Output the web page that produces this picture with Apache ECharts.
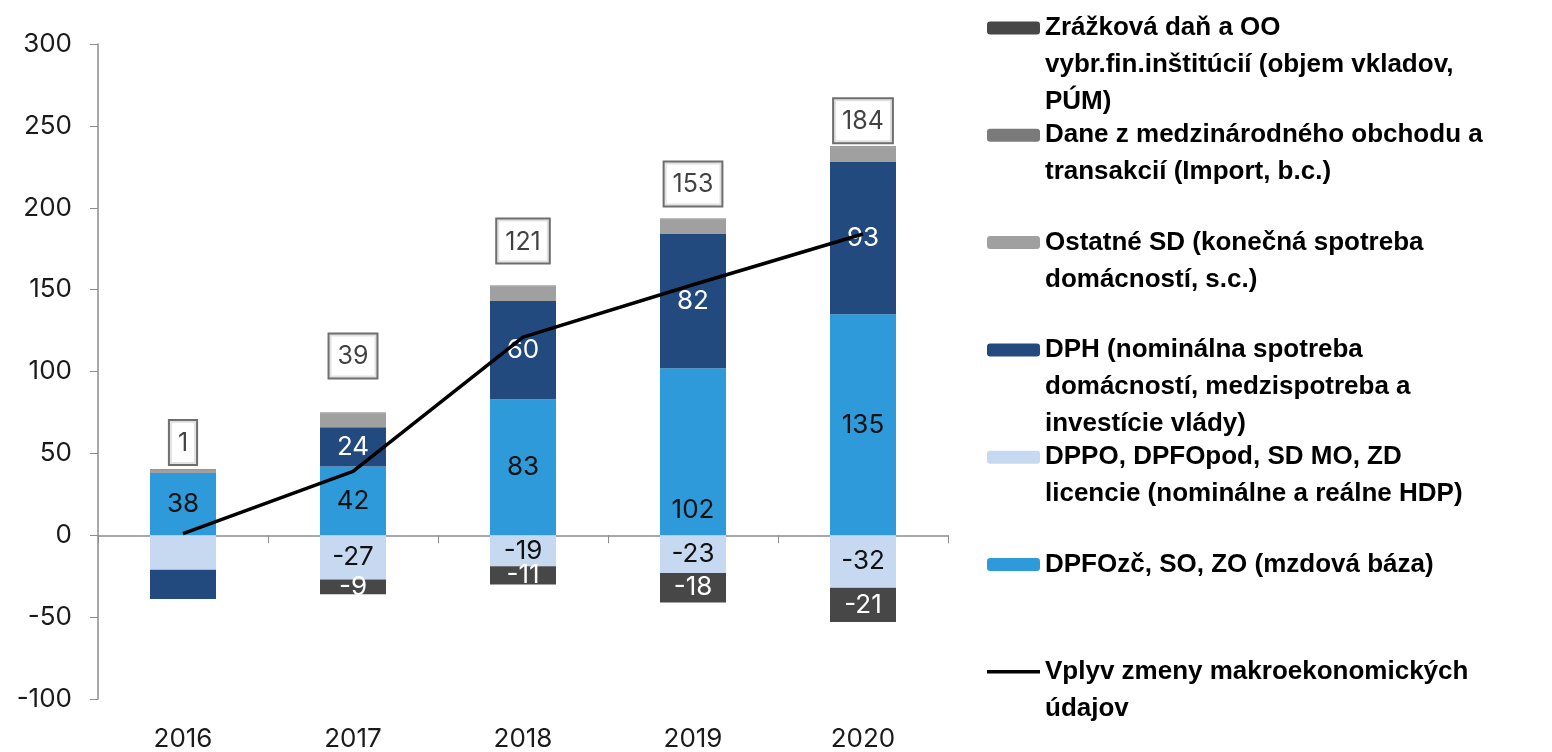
<!DOCTYPE html>
<html>
<head>
<meta charset="utf-8">
<title>Vplyv zmeny makroekonomických údajov</title>
<script src="https://cdn.jsdelivr.net/npm/echarts@6/dist/echarts.min.js"></script>
<style>
  html, body { margin: 0; padding: 0; background: #fff; }
  #chart { width: 1552px; height: 752px; }
</style>
</head>
<body>
<div id="chart"></div>
<script>
// roky a hodnoty (mil. eur), odčítané z grafu
const years = ['2016', '2017', '2018', '2019', '2020']
const dpfo = [38, 42, 83, 102, 135]
const dppo = [-21, -27, -19, -23, -32]
const dph = [-18, 24, 60, 82, 93]
const zrazkova = [0, -9, -11, -18, -21]
const ostatne = [2, 8.5, 9, 9, 9]
const dane = [0.5, 0.5, 0.5, 0.5, 0.5]
const vplyv = [1, 39, 121, 153, 184]

// legenda - riadky textu, poradie zhora nadol
const legendLines = [
  ['Zrážková daň a OO', 'vybr.fin.inštitúcií (objem vkladov,', 'PÚM)'],
  ['Dane z medzinárodného obchodu a', 'transakcií (Import, b.c.)'],
  ['Ostatné SD (konečná spotreba', 'domácností, s.c.)'],
  ['DPH (nominálna spotreba', 'domácností, medzispotreba a', 'investície vlády)'],
  ['DPPO, DPFOpod, SD MO, ZD', 'licencie (nominálne a reálne HDP)'],
  ['DPFOzč, SO, ZO (mzdová báza)'],
  ['Vplyv zmeny makroekonomických', 'údajov']
]
const names = legendLines.map(l => l.join(' '))
const [nZraz, nDane, nOst, nDph, nDppo, nDpfo, nVplyv] = names

const numFont = 'Inter, "Liberation Sans", sans-serif'
const legFont = '"Liberation Sans", Arial, sans-serif'
const LH = 37

// vrch kladnej časti stĺpca - kotva pre rámčeky s hodnotou čiary
const posTop = years.map((y, i) =>
  [dpfo, dppo, dph, zrazkova, ostatne, dane].reduce((s, a) => s + Math.max(a[i], 0), 0))
const boxGap = [5, 35, 23, 13, 4]

const hideFirst = p => (p.dataIndex === 0 ? '' : p.value)

const barSeries = (name, data, color, labelColor, formatter) => ({
  name,
  type: 'bar',
  stack: 'total',
  barWidth: 66,
  data,
  itemStyle: { color },
  label: {
    show: !!labelColor,
    position: 'inside',
    color: labelColor,
    fontFamily: numFont,
    fontSize: 26,
    formatter: formatter || (p => p.value)
  }
})

// každá položka legendy samostatne, ikona zarovnaná s prvým riadkom
const legends = legendLines.map((lines, i) => {
  const n = lines.length
  const iconY = 28 + i * 107.3
  const isLine = i === legendLines.length - 1
  return {
    orient: 'vertical',
    left: 987,
    top: iconY - (2 * n - 1) * LH / 2,
    padding: 0,
    itemWidth: 53,
    itemHeight: isLine ? 3.5 : 13,
    selectedMode: false,
    formatter: name => {
      const l = legendLines[names.indexOf(name)]
      return '\n'.repeat(l.length - 1) + l.join('\n')
    },
    textStyle: {
      fontFamily: legFont,
      fontWeight: 'bold',
      fontSize: 26,
      lineHeight: LH,
      color: '#000'
    },
    data: [isLine ? { name: names[i], icon: 'rect' } : names[i]]
  }
})

const chart = echarts.init(document.getElementById('chart'))

chart.setOption({
  animation: false,
  backgroundColor: '#fff',
  legend: legends,
  grid: { left: 98, right: 604, top: 44, bottom: 52 },
  xAxis: [
    {
      type: 'category',
      data: years,
      axisLine: { onZero: true, lineStyle: { color: '#8c8c8c', width: 1.5 } },
      axisTick: { show: true, length: 8, lineStyle: { color: '#8c8c8c' } },
      axisLabel: { show: false }
    },
    {
      type: 'category',
      data: years,
      position: 'bottom',
      axisLine: { show: false, onZero: false },
      axisTick: { show: false },
      axisLabel: { margin: 27, color: '#1a1a1a', fontFamily: numFont, fontSize: 26 }
    }
  ],
  yAxis: {
    type: 'value',
    min: -100,
    max: 300,
    interval: 50,
    axisLine: { show: true, lineStyle: { color: '#8c8c8c', width: 1.5 } },
    axisTick: { show: true, length: 8, lineStyle: { color: '#8c8c8c' } },
    splitLine: { show: false },
    axisLabel: { margin: 26, color: '#1a1a1a', fontFamily: numFont, fontSize: 26 }
  },
  series: [
    barSeries(nDpfo, dpfo.map((v, i) => (i === 3
      ? { value: v, label: { position: 'insideBottom', distance: 12 } }
      : v)), '#2e9ad9', '#111'),
    barSeries(nDppo, dppo, '#c6d9f1', '#111', hideFirst),
    barSeries(nDph, dph, '#234a7e', '#fff', hideFirst),
    barSeries(nZraz, zrazkova, '#474747', '#fff', hideFirst),
    barSeries(nOst, ostatne, '#a0a0a0', null),
    barSeries(nDane, dane, '#7a7a7a', null),
    {
      name: nVplyv,
      type: 'line',
      data: vplyv,
      symbol: 'none',
      z: 5,
      lineStyle: { color: '#000', width: 3.5 },
      itemStyle: { color: '#000' }
    },
    {
      name: 'box',
      type: 'scatter',
      data: posTop.map((v, i) => ({ value: v, label: { distance: boxGap[i] } })),
      symbolSize: 0,
      z: 6,
      label: {
        show: true,
        position: 'top',
        formatter: p => vplyv[p.dataIndex],
        color: '#111',
        fontFamily: numFont,
        fontSize: 25,
        backgroundColor: '#fff',
        borderColor: '#4a4a4a',
        borderWidth: 2,
        padding: [10, 8, 8, 8]
      }
    }
  ]
})

window.addEventListener('resize', () => chart.resize())
</script>
</body>
</html>
